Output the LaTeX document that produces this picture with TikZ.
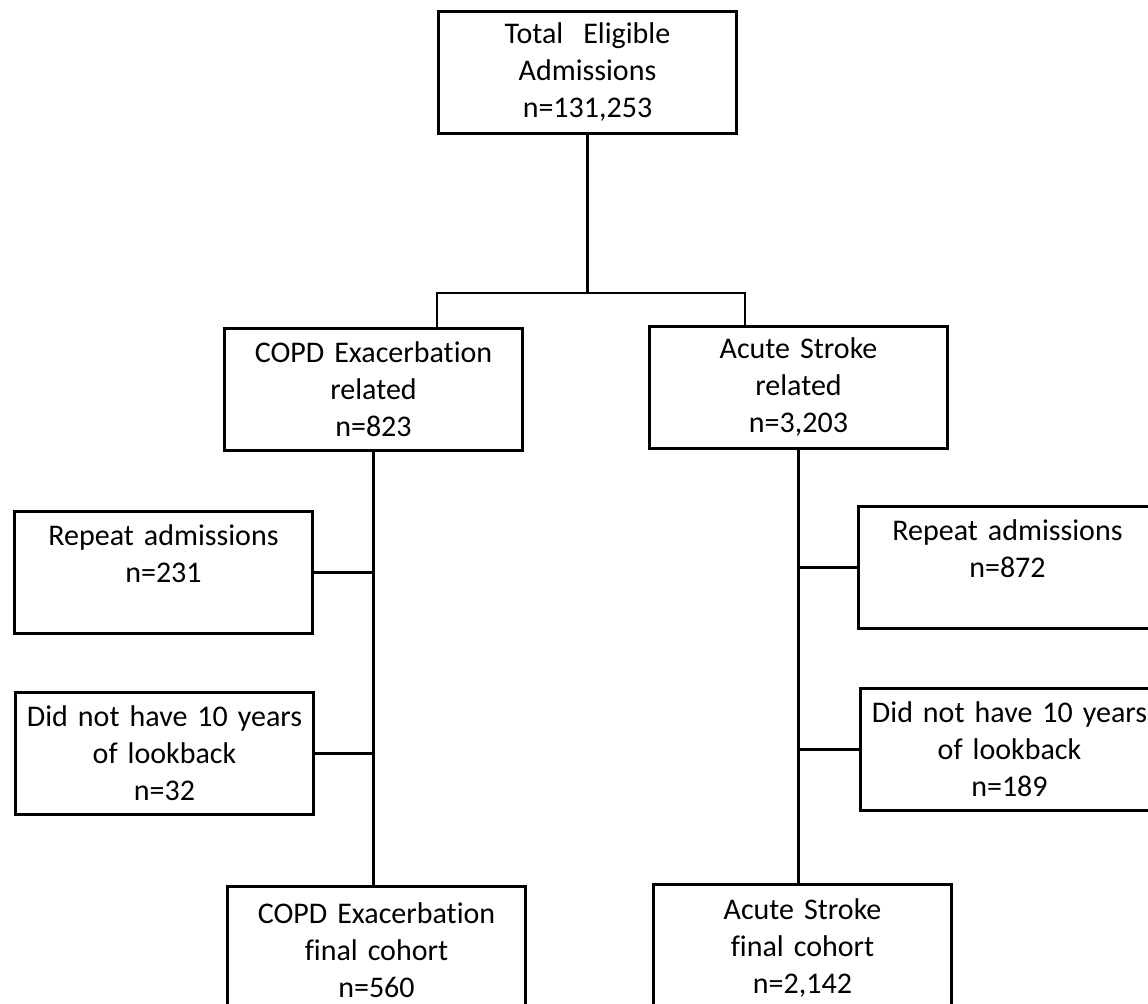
\documentclass[tikz,border=0pt]{standalone}
\usepackage{fontspec}
\setmainfont{Carlito}[Ligatures=NoCommon]

\begin{document}
\begin{tikzpicture}[x=0.5pt,y=-0.5pt,
		flowbox/.style={draw,line width=1.5pt,inner sep=0pt,anchor=north west,
			minimum width=149pt,minimum height=61pt,text width=146pt,align=center,
			font=\fontsize{15}{18.5}\selectfont},
		finalbox/.style={flowbox,minimum height=64pt},
		link/.style={line width=1.1pt}]
			  \useasboundingbox (0,0) rectangle (1148,1004);
			  \clip (0,0) rectangle (1148,1004);
			  % top
			  \node[flowbox] (total) at (437,10) {Total\ \ Eligible\\Admissions\\n=131,253};
			  % two groups
			  \node[flowbox] (copd) at (223,327) {COPD Exacerbation\\related\\n=823};
			  \node[flowbox] (stroke) at (648,325) {Acute Stroke\\related\\n=3,203};
			  % exclusions
			  \node[flowbox] (repeatL) at (13,510) {Repeat admissions\\n=231\\~};
			  \node[flowbox] (lookL) at (14,691) {Did not have 10 years\\of lookback\\n=32};
			  \node[flowbox] (repeatR) at (857,505) {Repeat admissions\\n=872\\~};
			  \node[flowbox] (lookR) at (859,687) {Did not have 10 years\\of lookback\\n=189};
			  % final cohorts
			  \node[finalbox] (finalL) at (226,885) {COPD Exacerbation\\final cohort\\n=560};
			  \node[finalbox] (finalR) at (652,883) {Acute Stroke\\final cohort\\n=2,142};
			  % split
			  \coordinate (barL) at (437,293);
			  \coordinate (barR) at (745,293);
			  \draw[link] (total.south) -- (total.south |- barL);
			  \draw[link] (barL |- copd.north) -- (barL) -- (barR) -- (barR |- stroke.north);
			  % trunks
			  \draw[link] (copd.south) -- (copd.south |- finalL.north);
			  \draw[link] (stroke.south) -- (stroke.south |- finalR.north);
			  \draw[link] (repeatL.east) -- (repeatL.east -| copd.south);
			  \draw[link] (lookL.east) -- (lookL.east -| copd.south);
			  \draw[link] (repeatR.west) -- (repeatR.west -| stroke.south);
			  \draw[link] (lookR.west) -- (lookR.west -| stroke.south);
%			  \draw[link] (copd.south) -- (finalL.north);
			\end{tikzpicture}
\end{document}
